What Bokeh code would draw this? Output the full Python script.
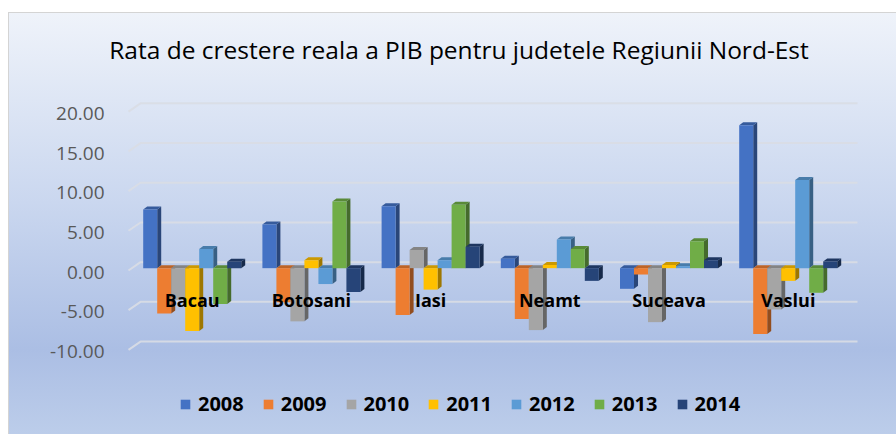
from bokeh.plotting import figure
from bokeh.models import (Range1d, LinearAxis, FixedTicker, NumeralTickFormatter,
                          Legend, LegendItem, ColumnDataSource, Label)
from bokeh.core.properties import value
from bokeh.embed import file_html
from bokeh.resources import INLINE

# ---------------- data ----------------
counties = ["Bacau", "Botosani", "Iasi", "Neamt", "Suceava", "Vaslui"]
years = ["2008", "2009", "2010", "2011", "2012", "2013", "2014"]
y2008 = [7.4, 5.5, 7.8, 1.2, -2.6, 18.0]
y2009 = [-5.7, -4.3, -5.9, -6.4, -0.8, -8.3]
y2010 = [-4.0, -6.7, 2.3, -7.8, -6.8, -5.2]
y2011 = [-7.9, 1.0, -2.7, 0.4, 0.4, -1.6]
y2012 = [2.4, -2.0, 1.0, 3.6, 0.25, 11.1]
y2013 = [-4.5, 8.4, 8.0, 2.4, 3.4, -3.1]
y2014 = [0.8, -3.0, 2.7, -1.6, 1.0, 0.85]
series = [y2008, y2009, y2010, y2011, y2012, y2013, y2014]
y_ticks = [-10, -5, 0, 5, 10, 15, 20]
title_text = "Rata de crestere reala a PIB pentru judetele Regiunii Nord-Est"

colors = ["#4472C4", "#ED7D31", "#A5A5A5", "#FFC000", "#5B9BD5", "#70AD47", "#264478"]


def shade(hex_color, f):
    h = hex_color.lstrip("#")
    r, g, b = (int(h[i:i + 2], 16) for i in (0, 2, 4))
    return "#%02x%02x%02x" % (int(r * f), int(g * f), int(b * f))


# ---------------- layout (page pixels) ----------------
PAGE_X0, PAGE_Y0 = 8, 12          # where the chart box starts on the page
W, H = 888, 422
ML, MR, MT, MB = 98, 0, 0, 0      # frame covers the whole chart except the axis strip
frame_w = W - ML - MR
frame_h = H - MT - MB
FL = PAGE_X0 + ML                  # page x of frame left
FT = PAGE_Y0 + MT                  # page y of frame top

x_range = Range1d(-0.719, -0.719 + frame_w / 119.2)
y_range = Range1d(32.20 - frame_h / 7.94, 32.20)
ux = (x_range.end - x_range.start) / frame_w
uy = (y_range.end - y_range.start) / frame_h


def px2x(px):
    return x_range.start + (px - FL) * ux


def px2y(py):
    return y_range.end - (py - FT) * uy


p = figure(width=W, height=H, x_range=x_range, y_range=y_range, title=None,
           output_backend="svg", toolbar_location=None,
           x_axis_location=None, y_axis_location=None,
           min_border_left=ML, min_border_right=MR,
           min_border_top=MT, min_border_bottom=MB,
           border_fill_color=None, background_fill_color=None,
           outline_line_color=None)
p.xgrid.visible = False
p.ygrid.visible = False
p.styles = {
    "background-image": "linear-gradient(to bottom, #eff3fa 0%, #cad7ef 45%, #abbee4 80%, #bccdea 100%)",
    "box-shadow": "inset 1px 1px 0 0 #d4d4d4",
    "margin-top": "%dpx" % PAGE_Y0,
    "margin-left": "%dpx" % PAGE_X0,
}

DX, DY = 4 * ux, 3 * uy
BW = 14 * ux

# front axis (labels sit on the front plane)
p.extra_y_ranges = {"front": Range1d(y_range.start + 0.5, y_range.end + 0.5)}
ax = LinearAxis(y_range_name="front", ticker=FixedTicker(ticks=y_ticks),
                formatter=NumeralTickFormatter(format="0.00"))
ax.axis_line_color = None
ax.major_tick_line_color = None
ax.minor_tick_line_color = None
ax.major_tick_out = 0
ax.major_label_text_font = "Open Sans"
ax.major_label_text_font_size = "19px"
ax.major_label_text_color = "#595959"
ax.major_label_standoff = 2
p.add_layout(ax, "left")

# back-wall gridlines with slanted left edge
gx, gy = [], []
gl_front, gl_back, gl_end = px2x(128), px2x(140), px2x(857)
for t in y_ticks:
    gx.append([gl_front, gl_back, gl_end])
    gy.append([t - 2.3 * uy, t + 6 * uy, t + 6 * uy])
p.multi_line(gx, gy, line_color="#d9dde4", line_width=2, line_alpha=0.9)

# 3D bars
legend_items = []
n = len(years)
for j, (yr, vals, col) in enumerate(zip(years, series, colors)):
    xc = [i + (j - (n - 1) / 2) * BW for i in range(len(counties))]
    lo = [min(0, v) for v in vals]
    hi = [max(0, v) for v in vals]
    side_xs, side_ys, top_xs, top_ys = [], [], [], []
    for c, a, b in zip(xc, lo, hi):
        xl, xr = c - BW / 2, c + BW / 2
        side_xs.append([xr, xr + DX, xr + DX, xr])
        side_ys.append([a, a + DY, b + DY, b])
        top_xs.append([xl, xl + DX, xr + DX, xr])
        top_ys.append([b, b + DY, b + DY, b])
    p.patches(side_xs, side_ys, fill_color=shade(col, 0.62), line_color=None)
    p.patches(top_xs, top_ys, fill_color=shade(col, 0.8), line_color=None)
    src = ColumnDataSource(dict(x=xc, top=hi, bottom=lo))
    r = p.vbar(x="x", top="top", bottom="bottom", width=BW, source=src,
               fill_color=col, line_color=None)
    legend_items.append(LegendItem(label=yr, renderers=[r]))

# category labels
p.text(x=list(range(len(counties))), y=[-4.05] * len(counties), text=counties,
       text_font=value("Open Sans"), text_font_style="bold",
       text_font_size="18px", text_color="#000000",
       text_align="center", text_baseline="middle")

# title
p.add_layout(Label(x=px2x(458.5), y=px2y(49), text=title_text,
                   text_font="Open Sans", text_font_size="24.5px",
                   text_color="#000000", text_align="center",
                   text_baseline="middle"))

# legend (inside the frame, near its bottom)
legend = Legend(items=legend_items, orientation="horizontal",
                location=(179 - FL, 17),
                glyph_width=12, glyph_height=12, label_standoff=7, spacing=18,
                padding=5, margin=0, label_text_font="Open Sans",
                label_text_font_style="bold",
                label_text_font_size="20px", label_text_color="#000000",
                background_fill_alpha=0, border_line_color=None)
p.add_layout(legend, "center")

open("out.html", "w").write(file_html(p, INLINE))
